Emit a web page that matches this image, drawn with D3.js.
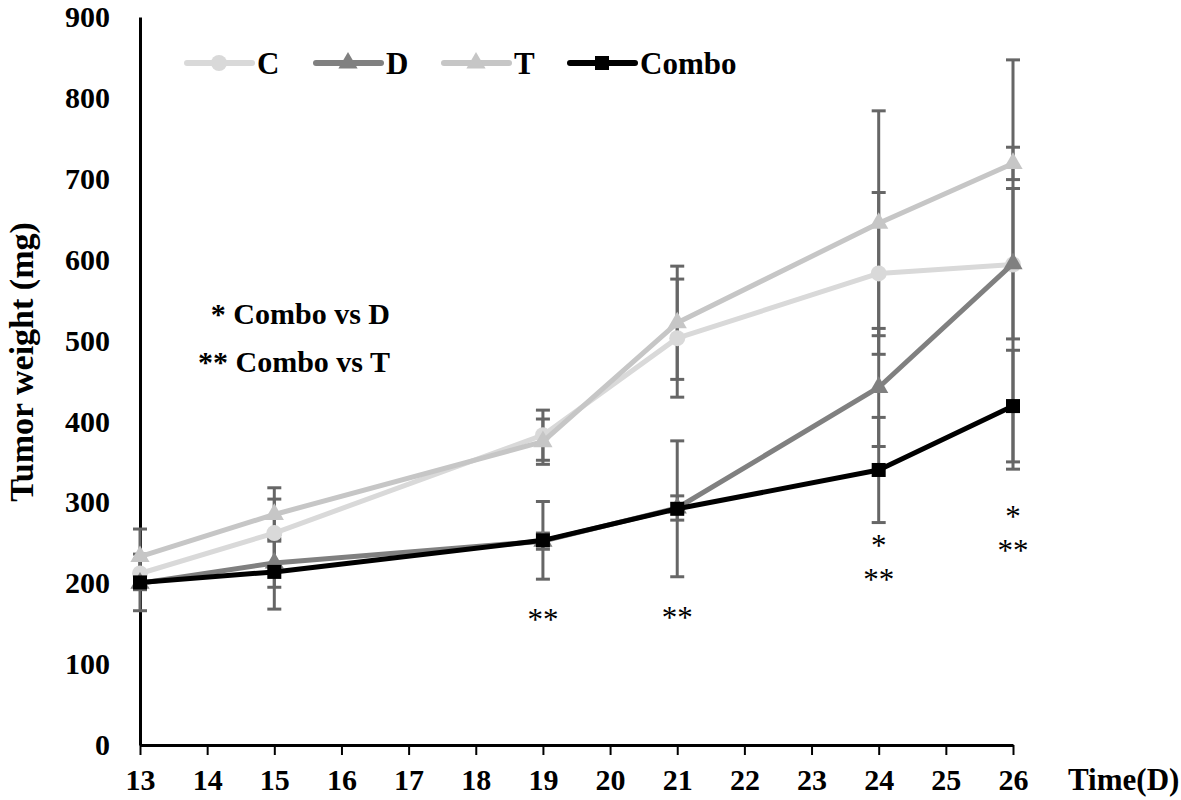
<!DOCTYPE html>
<html>
<head>
<meta charset="utf-8">
<script src="https://cdn.jsdelivr.net/npm/d3@7"></script>
<style>
  html, body { margin: 0; padding: 0; background: #fff; }
  svg { display: block; }
  text { font-family: "Liberation Serif", "Times New Roman", serif; font-weight: bold; fill: #000; }
</style>
</head>
<body>
<svg id="chart" width="1181" height="800"></svg>
<script>
// ---- data ----
const days = [13, 15, 19, 21, 24, 26];
const xTicks = [13, 14, 15, 16, 17, 18, 19, 20, 21, 22, 23, 24, 25, 26];
const yTicks = [0, 100, 200, 300, 400, 500, 600, 700, 800, 900];

const seriesNames = ["C", "D", "T", "Combo"];
const valuesC = [212, 262, 383, 503, 583, 594];
const errC    = [18, 42, 31, 73, 100, 253];
const valuesD = [200, 225, 252, 293, 442, 595];
const errD    = [8, 30, 10, 15, 73, 93];
const valuesT = [233, 285, 375, 522, 645, 719];
const errT    = [34, 33, 28, 70, 139, 20];
const valuesCombo = [201, 214, 253, 292, 340, 419];
const errCombo    = [35, 46, 48, 84, 65, 69];

const sigDays   = [19, 21, 24, 24, 26, 26];
const sigLabels = ["**", "**", "*", "**", "*", "**"];
const sigValues = [155, 158, 247, 204, 283, 240];

const noteLines = ["* Combo vs D", "** Combo vs T"];

// ---- build ----
const colors = { C: "#d9d9d9", D: "#808080", T: "#c6c6c6", Combo: "#000000" };
const markers = { C: "circle", D: "triangle", T: "triangle", Combo: "square" };
const valueMap = { C: valuesC, D: valuesD, T: valuesT, Combo: valuesCombo };
const errMap = { C: errC, D: errD, T: errT, Combo: errCombo };
const series = seriesNames.map(n => ({ name: n, values: valueMap[n], err: errMap[n], color: colors[n], marker: markers[n] }));

const svg = d3.select("#chart");
const x = d3.scaleLinear().domain([13, 26]).range([140, 1013]);
const y = d3.scaleLinear().domain([0, 900]).range([745, 17]);

// axes
const xAxis = d3.axisBottom(x).tickValues(xTicks).tickSize(10).tickSizeOuter(0).tickPadding(14);
const gx = svg.append("g").attr("transform", `translate(0,${y(0)})`).call(xAxis);
gx.select(".domain").attr("stroke", "#000").attr("stroke-width", 3);
gx.selectAll(".tick line").attr("stroke", "#000").attr("stroke-width", 2);
gx.selectAll(".tick text")
  .style("font-size", "30px")
  .attr("dy", "0.71em");

const yAxis = d3.axisLeft(y).tickValues(yTicks).tickSize(0).tickPadding(30);
const gy = svg.append("g").attr("transform", `translate(${x(13)},0)`).call(yAxis);
gy.select(".domain").attr("stroke", "#000").attr("stroke-width", 3);
gy.selectAll(".tick text").style("font-size", "30px");

// axis titles
svg.append("text")
  .attr("transform", `translate(33,362) rotate(-90)`)
  .attr("text-anchor", "middle")
  .style("font-size", "34px")
  .text("Tumor weight (mg)");
svg.append("text")
  .attr("x", 1068).attr("y", 790)
  .style("font-size", "31px")
  .text("Time(D)");

// error bars
const capW = 14;
const errG = svg.append("g");
series.forEach(s => {
  days.forEach((d, i) => {
    const cx = x(d), hi = y(s.values[i] + s.err[i]), lo = y(s.values[i] - s.err[i]);
    errG.append("line").attr("x1", cx).attr("x2", cx).attr("y1", hi).attr("y2", lo)
      .attr("stroke", "#666").attr("stroke-width", 3);
    [hi, lo].forEach(yy => errG.append("line")
      .attr("x1", cx - capW / 2).attr("x2", cx + capW / 2).attr("y1", yy).attr("y2", yy)
      .attr("stroke", "#666").attr("stroke-width", 3));
  });
});

// markers
function drawMarker(g, type, cx, cy, color) {
  if (type === "circle") {
    g.append("circle").attr("cx", cx).attr("cy", cy).attr("r", 8).attr("fill", color);
  } else if (type === "triangle") {
    g.append("path").attr("d", d3.symbol().type(d3.symbolTriangle).size(160)())
      .attr("transform", `translate(${cx},${cy})`).attr("fill", color);
  } else {
    const sz = 14;
    g.append("rect").attr("x", cx - sz / 2).attr("y", cy - sz / 2).attr("width", sz).attr("height", sz)
      .attr("fill", color);
  }
}

const line = d3.line().x((d, i) => x(days[i])).y(d => y(d));
const seriesG = svg.append("g");
series.forEach(s => {
  seriesG.append("path").datum(s.values).attr("d", line)
    .attr("fill", "none").attr("stroke", s.color).attr("stroke-width", 5).attr("stroke-linejoin", "round");
  s.values.forEach((v, i) => drawMarker(seriesG, s.marker, x(days[i]), y(v), s.color));
});

// significance markers
sigDays.forEach((d, i) => {
  svg.append("text").attr("x", x(d)).attr("y", y(sigValues[i]))
    .attr("text-anchor", "middle").attr("dominant-baseline", "central")
    .style("font-size", "31px").style("font-weight", "normal")
    .text(sigLabels[i]);
});

// note
noteLines.forEach((t, i) => {
  svg.append("text").attr("x", 390).attr("y", 324 + i * 48)
    .attr("text-anchor", "end").style("font-size", "30px").text(t);
});

// legend
const legX = [187, 316, 444, 570];
const lg = svg.append("g");
series.forEach((s, i) => {
  const lx = legX[i], ly = 63;
  lg.append("line").attr("x1", lx).attr("x2", lx + 65).attr("y1", ly).attr("y2", ly)
    .attr("stroke", s.color).attr("stroke-width", 6).attr("stroke-linecap", "round");
  drawMarker(lg, s.marker, lx + 32, ly, s.color);
  lg.append("text").attr("x", lx + 70).attr("y", ly + 11)
    .style("font-size", "31px").text(s.name);
});
</script>
</body>
</html>
